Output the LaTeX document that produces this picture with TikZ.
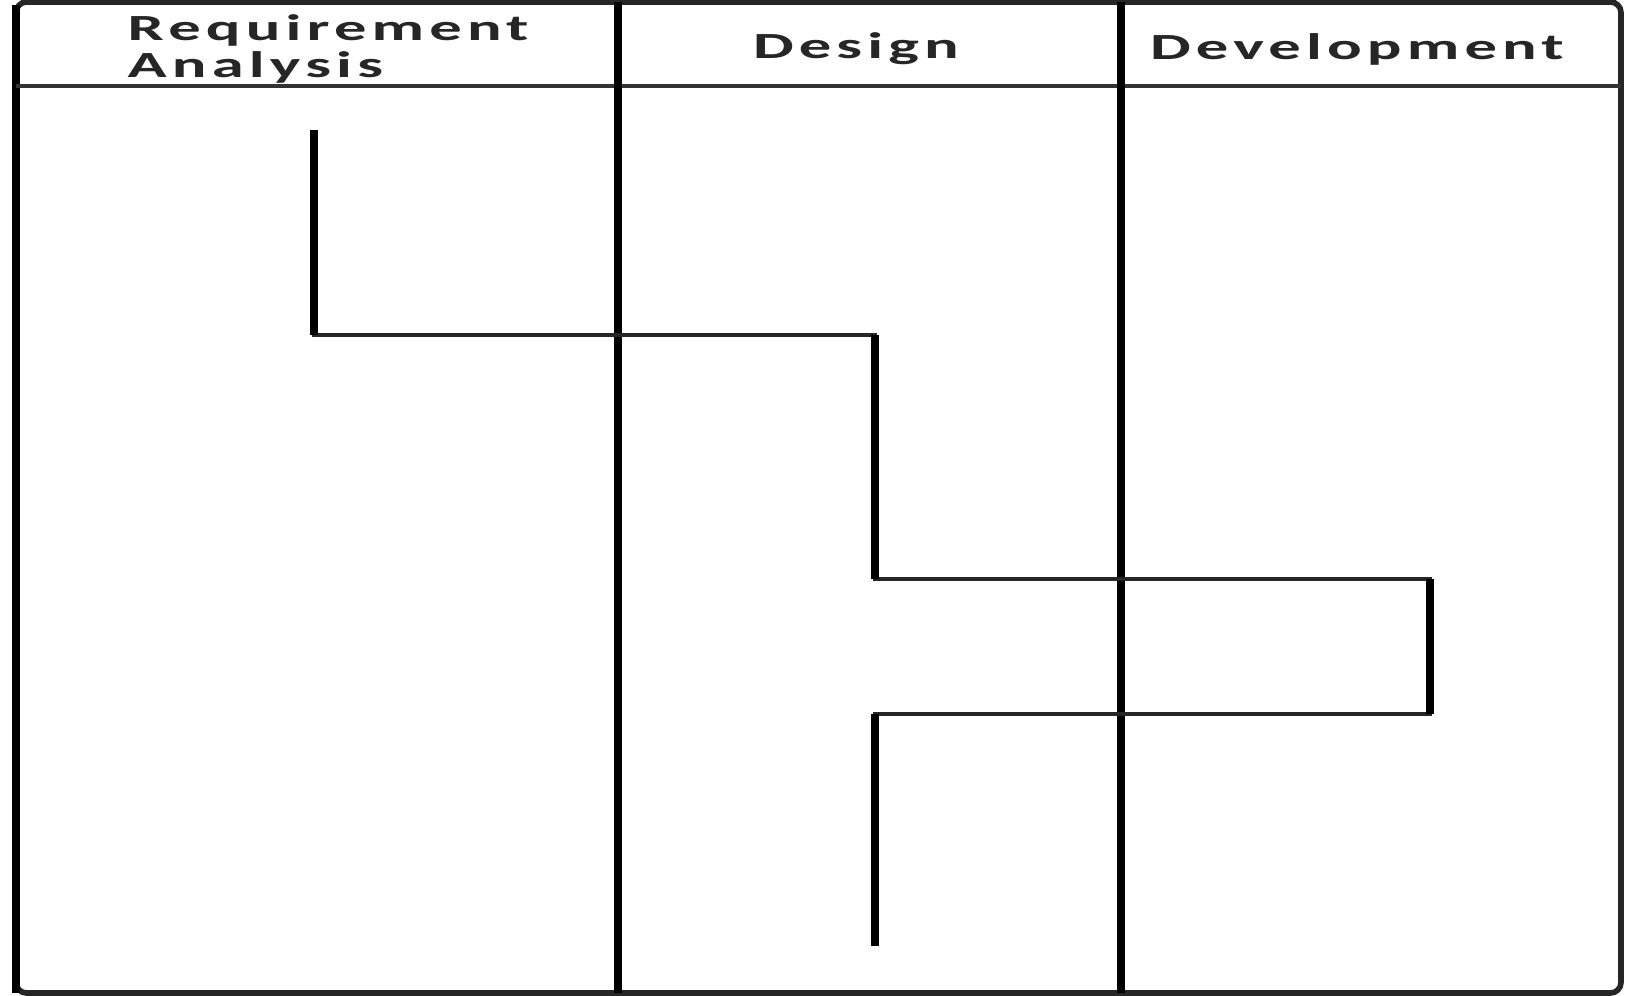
\documentclass[tikz,border=0pt]{standalone}
\usepackage{fontspec}
\newfontfamily\headfont[FakeStretch=1.75,LetterSpace=14]{Carlito}
\usetikzlibrary{positioning}

\begin{document}
\begin{tikzpicture}[
  frame/.style={draw, line width=1.6pt, black!85, rounded corners=3pt},
  lane/.style={draw, line width=2.3pt},
  head/.style={font=\headfont\bfseries\fontsize{10.5}{10.6}\selectfont, inner sep=0pt, black!85},
  vflow/.style={draw, line width=2.2pt, line cap=square},
  hflow/.style={draw, line width=1.4pt, black!85}
]
  \useasboundingbox (0,0) rectangle (16.27,9.95);

  % table
  \draw[frame] (0.16,0.02) rectangle (16.21,9.93);
  \draw[line width=2pt] (0.16,0.02) -- (0.16,9.9);
  \draw[line width=1.4pt, black!80] (0.16,9.09) -- (16.21,9.09);
  \draw[lane] (6.18,0.02) -- (6.18,9.93);
  \draw[lane] (11.21,0.02) -- (11.21,9.93);

  \node[head, align=left, anchor=west] (req) at (1.27,9.46) {Requirement\\Analysis};
  \node[head] (des) at (8.56,9.46) {Design};
  \node[head] (dev) at (13.57,9.46) {Development};

  % flow
  \coordinate (c1) at (3.14,8.65);
  \coordinate (c2) at (3.14,6.60);
  \coordinate (c3) at (8.75,6.60);
  \coordinate (c4) at (8.75,4.16);
  \coordinate (c5) at (14.30,4.16);
  \coordinate (c6) at (14.30,2.81);
  \coordinate (c7) at (8.75,2.81);
  \coordinate (c8) at (8.75,0.49);

  \draw[hflow] (c1) -- (c2) -- (c3) -- (c4) -- (c5) -- (c6) -- (c7) -- (c8);
  \foreach \a/\b in {c1/c2, c3/c4, c5/c6, c7/c8}
    \draw[vflow] (\a) -- (\b);
\end{tikzpicture}
\end{document}
